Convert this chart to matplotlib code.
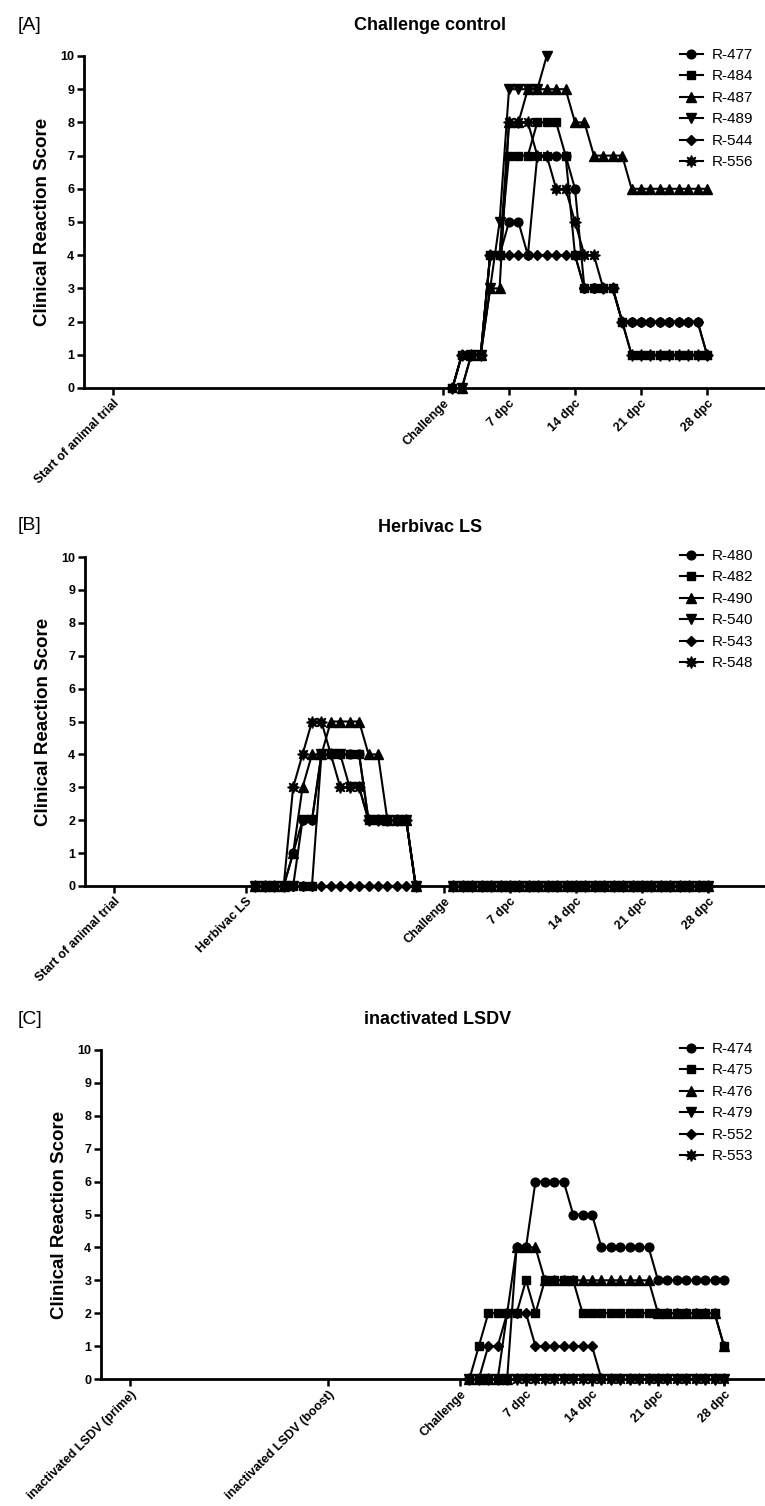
import numpy as np
import matplotlib
matplotlib.use("Agg")
import matplotlib.pyplot as plt

plt.rcParams['font.family'] = ['Liberation Sans', 'DejaVu Sans']

nan = np.nan

# days post challenge (challenge = day 0)
days = [1, 2, 3, 4, 5, 6, 7, 8, 9, 10, 11, 12, 13, 14,
        15, 16, 17, 18, 19, 20, 21, 22, 23, 24, 25, 26, 27, 28]

# ---- [A] Challenge control
a_names = ["R-477", "R-484", "R-487", "R-489", "R-544", "R-556"]
a_477 = [0, 1, 1, 1, 4, 4, 5, 5, 4, 7, 7, 7, 7, 6, 3, 3, 3, 3, 2, 2, 2, 2, 2, 2, 2, 2, 2, 1]
a_484 = [0, 1, 1, 1, 4, 4, 7, 7, 7, 8, 8, 8, 7, 4, 3, 3, 3, 3, 2, 1, 1, 1, 1, 1, 1, 1, 1, 1]
a_487 = [nan, 0, 1, 1, 3, 3, 8, 8, 9, 9, 9, 9, 9, 8, 8, 7, 7, 7, 7, 6, 6, 6, 6, 6, 6, 6, 6, 6]
a_489 = [nan, 0, 1, 1, 3, 5, 9, 9, 9, 9, 10, nan, nan, nan, nan, nan, nan, nan, nan, nan,
         nan, nan, nan, nan, nan, nan, nan, nan]
a_544 = [0, 1, 1, 1, 4, 4, 4, 4, 4, 4, 4, 4, 4, 4, 3, 3, 3, 3, 2, 2, 2, 2, 2, 2, 2, 2, 2, 1]
a_556 = [0, 1, 1, 1, 4, 4, 8, 8, 8, 7, 7, 6, 6, 5, 4, 4, 3, 3, 2, 1, 1, 1, 1, 1, 1, 1, 1, 1]

# ---- [B] Herbivac LS (vaccination at day -21)
b_vacc_days = [-20, -19, -18, -17, -16, -15, -14, -13, -12, -11, -10, -9, -8, -7, -6, -5, -4, -3]
b_names = ["R-480", "R-482", "R-490", "R-540", "R-543", "R-548"]
b_480 = [0, 0, 0, 0, 1, 2, 2, 4, 4, 4, 4, 4, 2, 2, 2, 2, 2, 0]
b_482 = [0, 0, 0, 0, 0, 0, 0, 4, 4, 4, 4, 4, 2, 2, 2, 2, 2, 0]
b_490 = [0, 0, 0, 0, 1, 3, 4, 4, 5, 5, 5, 5, 4, 4, 2, 2, 2, 0]
b_540 = [0, 0, 0, 0, 0, 2, 2, 4, 4, 4, 3, 3, 2, 2, 2, 2, 2, 0]
b_543 = [0, 0, 0, 0, 0, 0, 0, 0, 0, 0, 0, 0, 0, 0, 0, 0, 0, 0]
b_548 = [0, 0, 0, 0, 3, 4, 5, 5, 4, 3, 3, 3, 2, 2, 2, 2, 2, 0]
b_post = [0, 0, 0, 0, 0, 0, 0, 0, 0, 0, 0, 0, 0, 0, 0, 0, 0, 0, 0, 0, 0, 0, 0, 0, 0, 0, 0, 0]

# ---- [C] inactivated LSDV
c_names = ["R-474", "R-475", "R-476", "R-479", "R-552", "R-553"]
c_474 = [0, 0, 0, 0, 2, 4, 4, 6, 6, 6, 6, 5, 5, 5, 4, 4, 4, 4, 4, 4, 3, 3, 3, 3, 3, 3, 3, 3]
c_475 = [0, 1, 2, 2, 2, 2, 3, 2, 3, 3, 3, 3, 2, 2, 2, 2, 2, 2, 2, 2, 2, 2, 2, 2, 2, 2, 2, 1]
c_476 = [0, 0, 0, 0, 0, 4, 4, 4, 3, 3, 3, 3, 3, 3, 3, 3, 3, 3, 3, 3, 2, 2, 2, 2, 2, 2, 2, 1]
c_479 = [0, 0, 0, 0, 0, 0, 0, 0, 0, 0, 0, 0, 0, 0, 0, 0, 0, 0, 0, 0, 0, 0, 0, 0, 0, 0, 0, 0]
c_552 = [0, 0, 1, 1, 2, 2, 2, 1, 1, 1, 1, 1, 1, 1, 0, 0, 0, 0, 0, 0, 0, 0, 0, 0, 0, 0, 0, 0]
c_553 = [0, 0, 0, 0, 0, 0, 0, 0, 0, 0, 0, 0, 0, 0, 0, 0, 0, 0, 0, 0, 0, 0, 0, 0, 0, 0, 0, 0]

dpc_ticks = [0, 7, 14, 21, 28]
dpc_labels = ["Challenge", "7 dpc", "14 dpc", "21 dpc", "28 dpc"]

markers = ['o', 's', '^', 'v', 'D', (8, 1, 0)]
msizes = [6.3, 5.8, 6.8, 6.8, 5.3, 8.5]

W, H = 765, 1506
PXD = 9.43  # pixels per day

fig = plt.figure(figsize=(W / 100, H / 100), dpi=100)


def make_panel(left_px, chal_px, top_px, bot_px, title, tag, ticks, labels, series, names):
    right_px = W
    ax = fig.add_axes([left_px / W, 1 - bot_px / H, (right_px - left_px) / W, (bot_px - top_px) / H])
    for (x, y), m, ms, nm in zip(series, markers, msizes, names):
        ax.plot(x, y, color='black', lw=1.5, marker=m, ms=ms, mec='black', mfc='black',
                clip_on=False, label=nm)
    ax.set_xlim((left_px - chal_px) / PXD, (right_px - chal_px) / PXD)
    ax.set_ylim(0, 10)
    ax.set_yticks(range(0, 11))
    ax.set_xticks(ticks)
    ax.set_xticklabels(labels, rotation=45, ha='right', va='top', rotation_mode='anchor',
                       fontsize=9, fontweight='bold')
    for lab in ax.get_yticklabels():
        lab.set_fontsize(9)
        lab.set_fontweight('bold')
    for s in ['top', 'right']:
        ax.spines[s].set_visible(False)
    for s in ['left', 'bottom']:
        ax.spines[s].set_linewidth(2.0)
    ax.tick_params(axis='both', width=1.8, length=5, pad=2)
    ax.set_ylabel("Clinical Reaction Score", fontsize=13.5, fontweight='bold', labelpad=7)
    cx = (left_px + right_px) / 2 + 5
    fig.text(cx / W, 1 - (top_px - 30) / H, title, ha='center', va='center',
             fontsize=13, fontweight='bold')
    fig.text(18 / W, 1 - (top_px - 31) / H, tag, ha='left', va='center', fontsize=14)
    ax.legend(loc='upper left', bbox_to_anchor=(680 / W, 1 - (top_px - 8) / H),
              bbox_transform=fig.transFigure, frameon=False, fontsize=11,
              handlelength=1.5, handletextpad=0.6, labelspacing=0.49,
              borderpad=0, borderaxespad=0)
    return ax


a_series = [(days, a_477), (days, a_484), (days, a_487), (days, a_489), (days, a_544), (days, a_556)]
make_panel(84, 443, 56, 388, "Challenge control", "[A]",
           [-35] + dpc_ticks, ["Start of animal trial"] + dpc_labels, a_series, a_names)

b_x = b_vacc_days + [nan] + days
b_series = [(b_x, s + [nan] + b_post) for s in [b_480, b_482, b_490, b_540, b_543, b_548]]
make_panel(85, 444, 557, 886, "Herbivac LS", "[B]",
           [-35, -21] + dpc_ticks, ["Start of animal trial", "Herbivac LS"] + dpc_labels,
           b_series, b_names)

c_series = [(days, c_474), (days, c_475), (days, c_476), (days, c_479), (days, c_552), (days, c_553)]
make_panel(101, 460, 1050, 1379, "inactivated LSDV", "[C]",
           [-35, -14] + dpc_ticks,
           ["inactivated LSDV (prime)", "inactivated LSDV (boost)"] + dpc_labels,
           c_series, c_names)

fig.savefig("out.png", dpi=100)
